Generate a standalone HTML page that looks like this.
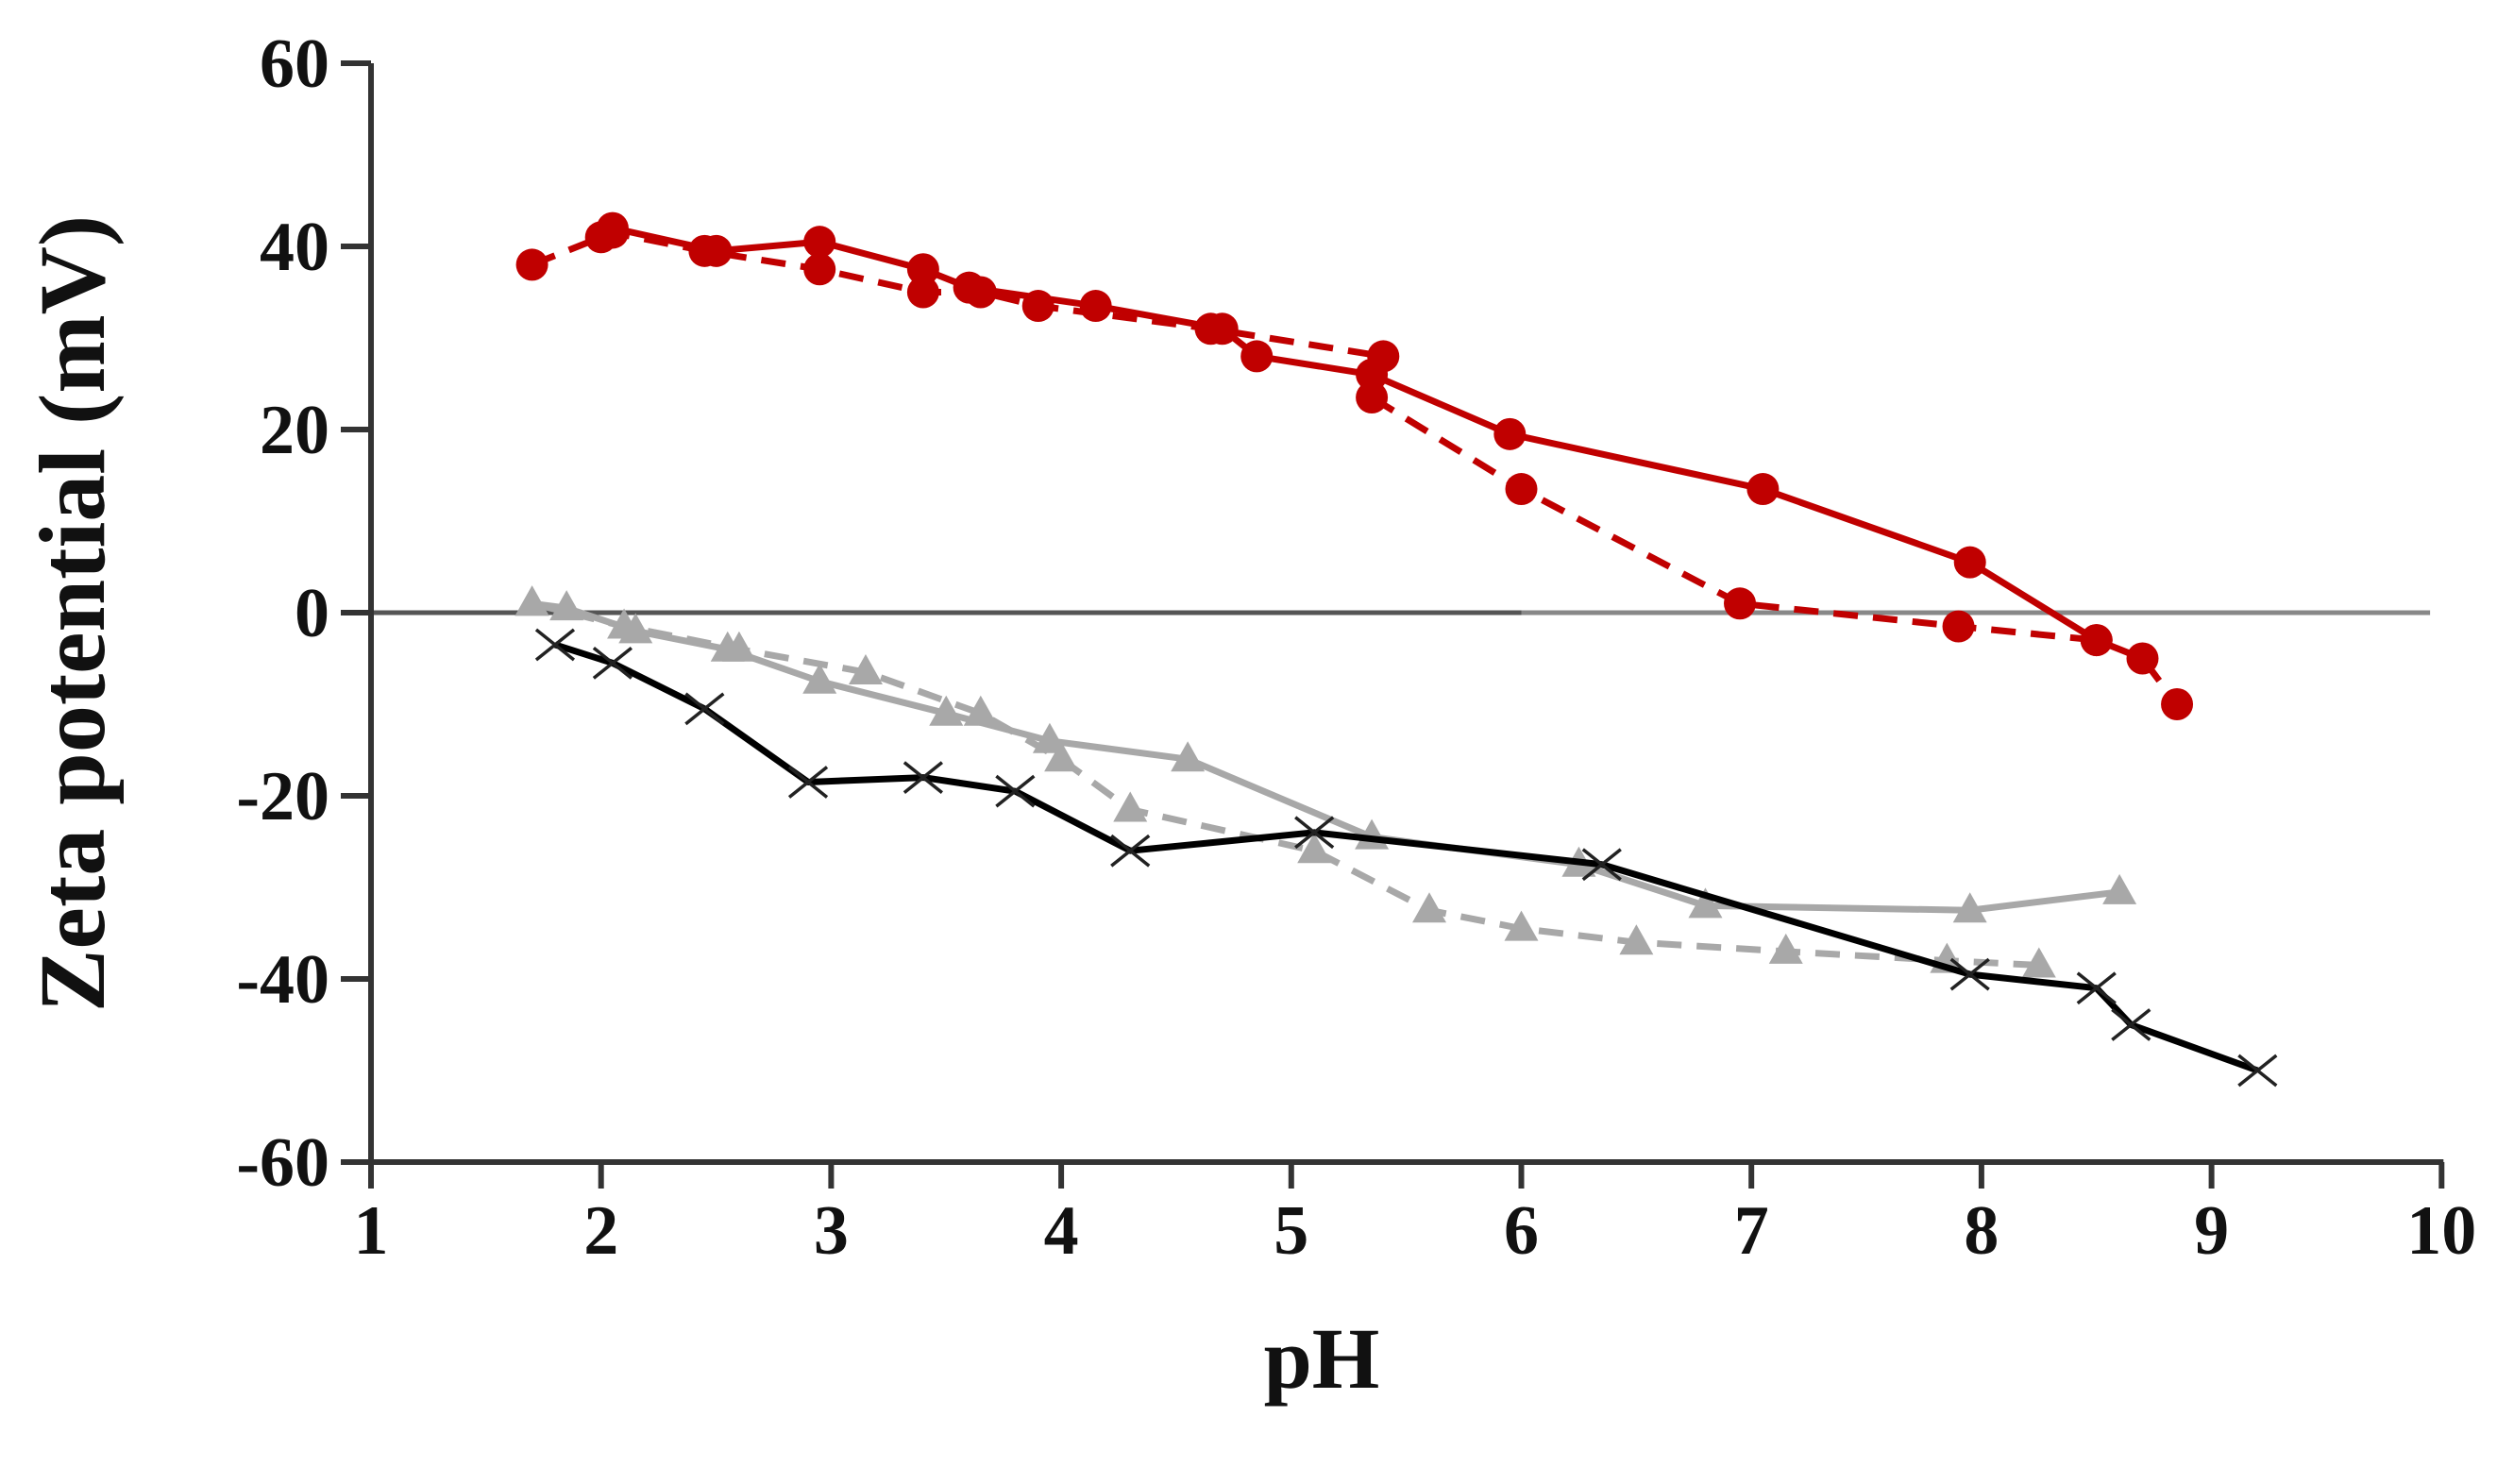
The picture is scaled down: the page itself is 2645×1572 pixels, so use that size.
<!DOCTYPE html>
<html><head><meta charset="utf-8"><style>
html,body{margin:0;padding:0;background:#fff;}
svg{display:block;}
text{font-family:"Liberation Serif",serif;font-weight:bold;fill:#111;}
</style></head><body>
<svg id="chart" width="2645" height="1572" viewBox="0 0 2645 1572" xmlns="http://www.w3.org/2000/svg">
<g id="axes"></g>
<g id="series"></g>
<text x="0" y="0" font-size="100" text-anchor="middle" transform="translate(110,650) rotate(-90)">Zeta potential (mV)</text>
<text x="1400" y="1470" font-size="92" text-anchor="middle">pH</text>
</svg>
<script>
const xTicks = [1,2,3,4,5,6,7,8,9,10];
const yTicks = [60,40,20,0,-20,-40,-60];
const redSolidX = [2.0,2.05,2.5,2.95,3.4,3.6,4.15,4.7,4.85,5.35,5.95,7.05,7.95,8.5];
const redSolidY = [41,42,39.5,40.5,37.5,35.5,33.5,31,28,26,19.5,13.5,5.5,-3];
const redDashX = [1.7,2.05,2.45,2.95,3.4,3.65,3.9,4.65,5.4,5.35,6.0,6.95,7.9,8.5,8.7,8.85];
const redDashY = [38,41.5,39.5,37.5,35,35,33.5,31,28,23.5,13.5,1,-1.5,-3,-5,-10];
const blackX = [1.8,2.05,2.45,2.9,3.4,3.8,4.3,5.1,6.35,7.95,8.5,8.65,9.2];
const blackY = [-3.5,-5.5,-10.5,-18.5,-18,-19.5,-26,-24,-27.5,-39.5,-41,-45,-50];
const graySolidX = [1.7,1.85,2.15,2.55,2.95,3.5,3.95,4.55,5.35,6.25,6.8,7.95,8.6];
const graySolidY = [1,0.5,-2,-4,-7.5,-11,-14,-16,-24.5,-27.5,-32,-32.5,-30.5];
const grayDashX = [1.7,2.1,2.6,3.15,3.65,4.0,4.3,5.1,5.6,6.0,6.5,7.15,7.85,8.25];
const grayDashY = [1,-1.5,-4,-6.5,-11,-16,-21.5,-26,-32.5,-34.5,-36,-37,-38,-38.5];

const NS = "http://www.w3.org/2000/svg";
function sx(p){ return 393 + (p-1)*243.7; }
function sy(v){ return 649 - v*9.7; }
function mk(tag, attrs, parent){ const e=document.createElementNS(NS,tag); for(const k in attrs) e.setAttribute(k,attrs[k]); parent.appendChild(e); return e; }

const axes=document.getElementById('axes');
const ser=document.getElementById('series');
let z1=mk('line',{x1:sx(1),x2:sx(6),y1:sy(0),y2:sy(0),stroke:'#555','stroke-width':5},axes);


let z2=mk('line',{x1:sx(6),x2:sx(9.95),y1:sy(0),y2:sy(0),stroke:'#888','stroke-width':5},axes);


let ya=mk('line',{x1:sx(1),x2:sx(1),y1:sy(60),y2:sy(-60)+2,stroke:'#333','stroke-width':6},axes);


let xa=mk('line',{x1:sx(1),x2:sx(10)+2,y1:sy(-60),y2:sy(-60),stroke:'#333','stroke-width':6},axes);


yTicks.forEach(v=>{
  let t=mk('line',{x1:sx(1)-32,x2:sx(1),y1:sy(v),y2:sy(v),stroke:'#333','stroke-width':6},axes);
  
  
  let l=mk('text',{x:sx(1)-44,y:sy(v)+25,'font-size':74,'text-anchor':'end'},axes);
  l.textContent=v;
  
  
});
xTicks.forEach(p=>{
  let t=mk('line',{x1:sx(p),x2:sx(p),y1:sy(-60),y2:sy(-60)+28,stroke:'#333','stroke-width':6},axes);
  
  
  let l=mk('text',{x:sx(p),y:1328,'font-size':74,'text-anchor':'middle'},axes);
  l.textContent=p;
  
  
});

function drawSeries(xs,ys,color,dash,marker,name){
  const g=mk('g',{},ser);
  
  
  const pts=xs.map((x,i)=>sx(x)+','+sy(ys[i])).join(' ');
  const pl=mk('polyline',{points:pts,fill:'none',stroke:color,'stroke-width':7,'stroke-dasharray':dash?'26,16':'none','stroke-linejoin':'round'},g);
  
  
  xs.forEach((x,i)=>{
    const cx=sx(x), cy=sy(ys[i]); let m;
    if(marker==='circle'){ m=mk('circle',{cx:cx,cy:cy,r:17,fill:color},g); }
    else if(marker==='tri'){ m=mk('polygon',{points:`${cx},${cy-19} ${cx-18},${cy+13} ${cx+18},${cy+13}`,fill:color},g); }
    else { m=mk('path',{d:`M${cx-20},${cy-16}L${cx+20},${cy+16}M${cx-20},${cy+16}L${cx+20},${cy-16}`,stroke:'#222','stroke-width':3.5,fill:'none'},g); }
    
    
  });
}
drawSeries(grayDashX,grayDashY,'#a8a8a8',true,'tri','gray-dashed-series');
drawSeries(graySolidX,graySolidY,'#a8a8a8',false,'tri','gray-solid-series');
drawSeries(blackX,blackY,'#000',false,'x','black-series');
drawSeries(redDashX,redDashY,'#c00000',true,'circle','red-dashed-series');
drawSeries(redSolidX,redSolidY,'#c00000',false,'circle','red-solid-series');
</script>
</body></html>
